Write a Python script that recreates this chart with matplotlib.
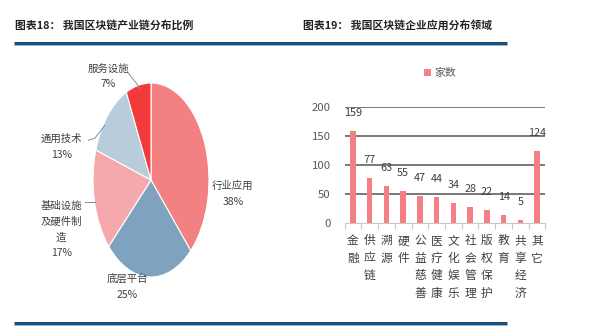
import matplotlib
matplotlib.use("Agg")
import matplotlib.pyplot as plt
from matplotlib.lines import Line2D
import numpy as np

plt.rcParams['font.family'] = ['Noto Sans CJK SC', 'DejaVu Sans']

# ---- data ----
pie_labels = ["行业应用", "底层平台", "基础设施\n及硬件制\n造", "通用技术", "服务设施"]
pie_values = [38, 25, 17, 13, 7]
pie_colors = ["#F48182", "#7FA2BE", "#F6A9AD", "#B8CCDB", "#F23A3A"]

bar_categories = ["金融", "供应链", "溯源", "硬件", "公益慈善", "医疗健康", "文化娱乐",
                  "社会管理", "版权保护", "教育", "共享经济", "其它"]
bar_values = [159, 77, 63, 55, 47, 44, 34, 28, 22, 14, 5, 124]
bar_ticks = [0, 50, 100, 150, 200]
legend_label = "家数"

W, H = 591, 329
fig = plt.figure(figsize=(W / 100, H / 100), dpi=100)
fig.patch.set_facecolor("white")

def fx(px):
    return px / W

def fy(py):
    return 1 - py / H

# ---- titles ----
fig.text(fx(15), fy(25), "图表18： 我国区块链产业链分布比例", fontsize=7.8,
         fontweight="bold", color="#222222", va="center", ha="left")
fig.text(fx(303), fy(25), "图表19： 我国区块链企业应用分布领域", fontsize=7.8,
         fontweight="bold", color="#222222", va="center", ha="left")

# ---- frame lines ----
for y in (43, 323):
    fig.add_artist(Line2D([fx(14), fx(507)], [fy(y), fy(y)], color="#1C4E7C",
                          lw=2.2, solid_capstyle="butt"))
    fig.add_artist(Line2D([fx(14), fx(507)], [fy(y + 1.6), fy(y + 1.6)], color="#7FA9CC",
                          lw=0.6, solid_capstyle="butt"))

# ---- pie ----
cx, cy, rx, ry = 151, 180, 58, 97
axp = fig.add_axes([fx(cx - rx), fy(cy + ry), 2 * rx / W, 2 * ry / H])
wedges, _ = axp.pie(pie_values, colors=pie_colors, startangle=90, counterclock=False,
                    wedgeprops=dict(linewidth=0.8, edgecolor="white"))
axp.set_aspect("auto")
axp.set_xlim(-1, 1)
axp.set_ylim(-1, 1)
axp.axis("off")

label_pos = [(1.41, -0.14), (-0.41, -1.10), (-1.55, -0.51), (-1.55, 0.34), (-0.74, 1.07)]
for lab, val, (x, y) in zip(pie_labels, pie_values, label_pos):
    axp.text(x, y, f"{lab}\n{val}%", ha="center", va="center", fontsize=7.5,
             color="#404040", linespacing=1.7, clip_on=False)

# leader lines
leader = [
    ([-0.40, -0.23, -0.19], [1.11, 0.98, 0.93]),   # 服务设施
    ([-1.08, -0.97, -0.80], [0.41, 0.43, 0.56]),    # 通用技术
    ([-1.13, -0.97], [-0.23, -0.23]),               # 基础设施
]
for xs, ys in leader:
    axp.plot(xs, ys, color="#8C8C8C", lw=0.7, clip_on=False)

# ---- bar chart ----
bx0, bx1, by0, by1 = 344.6, 545.4, 223, 107
axb = fig.add_axes([fx(bx0), fy(by0), (bx1 - bx0) / W, (by0 - by1) / H])
x = np.arange(len(bar_categories))
bars = axb.bar(x, bar_values, width=0.32, color="#F47F84", label=legend_label, zorder=3)
axb.set_xlim(-0.5, len(bar_categories) - 0.5)
axb.set_ylim(0, 200)
axb.set_yticks(bar_ticks)
axb.set_yticklabels([str(t) for t in bar_ticks], fontsize=8.2, color="#595959")
axb.tick_params(axis="y", length=0, pad=10)
for t in bar_ticks[1:]:
    axb.axhline(t, color="#555555", lw=1.1, zorder=1)
for s in ["top", "right", "left"]:
    axb.spines[s].set_visible(False)
axb.spines["bottom"].set_color("#C8C8C8")
axb.spines["bottom"].set_linewidth(0.8)

axb.set_xticks(x)
axb.set_xticklabels(["\n".join(c) for c in bar_categories], fontsize=8.5,
                    color="#404040", linespacing=1.45, va="top")
axb.tick_params(axis="x", length=0, pad=8)
axb.set_xticks(np.arange(-0.5, len(bar_categories)), minor=True)
axb.tick_params(axis="x", which="minor", length=4, color="#C8C8C8", width=0.8)

for xi, v in zip(x, bar_values):
    axb.annotate(str(v), (xi, v), xytext=(0, 13), textcoords="offset points",
                 ha="center", va="center", fontsize=7.8, color="#404040",
                 annotation_clip=False)

leg = fig.legend(handles=[bars], labels=[legend_label], loc="center",
                 bbox_to_anchor=(fx(440), fy(73)), frameon=False, fontsize=7.8,
                 handlelength=0.6, handleheight=0.6, handletextpad=0.3)
for t in leg.get_texts():
    t.set_color("#595959")

fig.savefig("out.png", dpi=100, facecolor="white")
